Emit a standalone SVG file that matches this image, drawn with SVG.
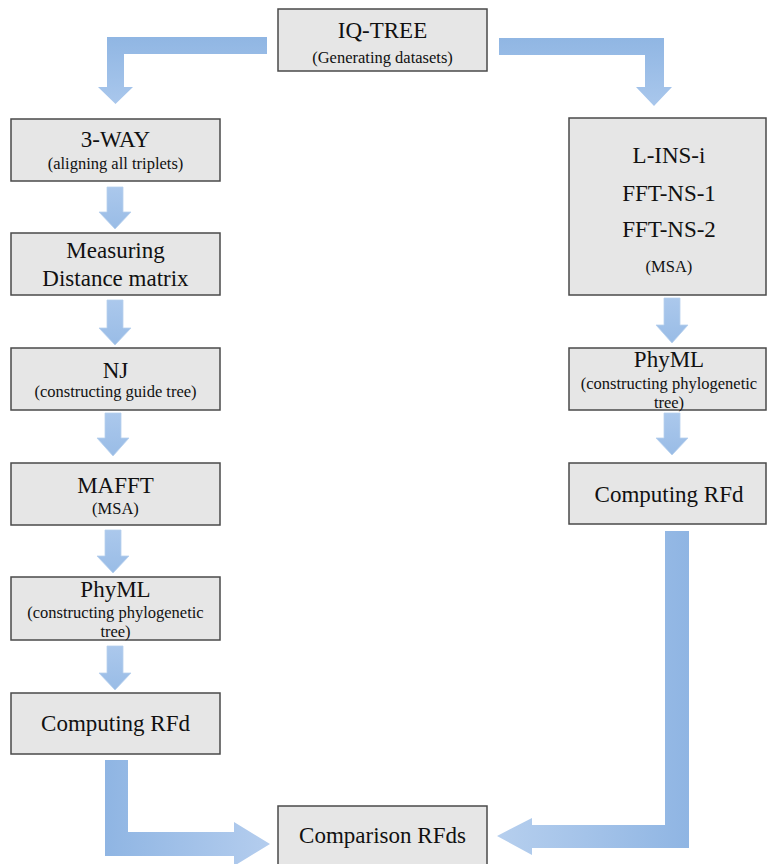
<svg xmlns="http://www.w3.org/2000/svg" width="767" height="864" viewBox="0 0 767 864">
<defs>
<linearGradient id="gv" x1="0" y1="0" x2="0" y2="1"><stop offset="0" stop-color="#abc8ec"/><stop offset="1" stop-color="#99bce6"/></linearGradient>
<linearGradient id="gt" x1="0" y1="0" x2="0" y2="1"><stop offset="0" stop-color="#90b6e3"/><stop offset="1" stop-color="#a9c7ec"/></linearGradient>
<linearGradient id="gbl" x1="0" y1="0" x2="1" y2="0"><stop offset="0" stop-color="#8fb5e3"/><stop offset="1" stop-color="#b4cdee"/></linearGradient>
<linearGradient id="gbr" x1="0" y1="0" x2="1" y2="0"><stop offset="0" stop-color="#b6cfee"/><stop offset="1" stop-color="#8fb5e3"/></linearGradient>
<style>
.box{fill:#e6e6e6;stroke:#4a4a4a;stroke-width:1.5}
.t{font-family:"Liberation Serif","Times New Roman",serif;font-size:23px;fill:#111;text-anchor:middle}
.s{font-family:"Liberation Serif","Times New Roman",serif;font-size:16.5px;fill:#111;text-anchor:middle}
.av{fill:url(#gv);stroke:#b8d0ee;stroke-width:0.8}
</style>
</defs>
<g id="connectors">
<path fill="url(#gt)" d="M267,37 V54 H124 V87 H133 L115.5,104 L98,87 H107 V37 Z"/>
<path fill="url(#gt)" d="M499,38 H664 V87 H672 L654,106 L636,87 H645 V55 H499 Z"/>
<path class="av" d="M107,187 H123 V212 H131 L115,229 L99,212 H107 Z"/>
<path class="av" d="M107,300 H123 V328 H131 L115,345 L99,328 H107 Z"/>
<path class="av" d="M105,413 H121 V438 H129 L113,456 L97,438 H105 Z"/>
<path class="av" d="M105,530 H121 V556 H129 L113,573 L97,556 H105 Z"/>
<path class="av" d="M107,646 H123 V673 H131 L115,690 L99,673 H107 Z"/>
<path class="av" d="M664,298 H680 V325 H688 L672,343 L656,325 H664 Z"/>
<path class="av" d="M664,413 H680 V438 H688 L672,455 L656,438 H664 Z"/>
<path fill="url(#gbl)" d="M105,760 H128 V832 H234 V822 L270,844 L234,866 V856 H105 Z"/>
<path fill="url(#gbr)" d="M665,531 H689 V848 H532 V855 L497,836 L532,818 V825 H665 Z"/>
</g>
<g id="iqtree"><rect class="box" x="278" y="9" width="209" height="62"/><text class="t" x="382.5" y="38">IQ-TREE</text><text class="s" x="382.5" y="63">(Generating datasets)</text></g>
<g id="threeway"><rect class="box" x="11" y="119" width="209" height="62"/><text class="t" x="115.5" y="147">3-WAY</text><text class="s" x="115.5" y="169">(aligning all triplets)</text></g>
<g id="measuring"><rect class="box" x="11" y="233" width="209" height="62"/><text class="t" x="115.5" y="258">Measuring</text><text class="t" x="115.5" y="286">Distance matrix</text></g>
<g id="nj"><rect class="box" x="11" y="348" width="209" height="62"/><text class="t" x="115.5" y="378">NJ</text><text class="s" x="115.5" y="397">(constructing guide tree)</text></g>
<g id="mafft"><rect class="box" x="11" y="463" width="209" height="62"/><text class="t" x="115.5" y="493">MAFFT</text><text class="s" x="115.5" y="514">(MSA)</text></g>
<g id="phyml-left"><rect class="box" x="11" y="577" width="209" height="63"/><text class="t" x="115.5" y="597">PhyML</text><text class="s" x="115.5" y="618">(constructing phylogenetic</text><text class="s" x="115.5" y="637">tree)</text></g>
<g id="rfd-left"><rect class="box" x="11" y="693" width="209" height="61"/><text class="t" x="115.5" y="731">Computing RFd</text></g>
<g id="msa-right"><rect class="box" x="569" y="118" width="197" height="177"/><text class="t" x="669" y="163">L-INS-i</text><text class="t" x="669" y="201">FFT-NS-1</text><text class="t" x="669" y="237">FFT-NS-2</text><text class="s" x="669" y="272">(MSA)</text></g>
<g id="phyml-right"><rect class="box" x="569" y="348" width="197" height="62"/><text class="t" x="669" y="367">PhyML</text><text class="s" x="669" y="389">(constructing phylogenetic</text><text class="s" x="669" y="408">tree)</text></g>
<g id="rfd-right"><rect class="box" x="569" y="463" width="197" height="61"/><text class="t" x="669" y="502">Computing RFd</text></g>
<g id="comparison"><rect class="box" x="278" y="806" width="209" height="70"/><text class="t" x="382.5" y="843">Comparison RFds</text></g>
</svg>
